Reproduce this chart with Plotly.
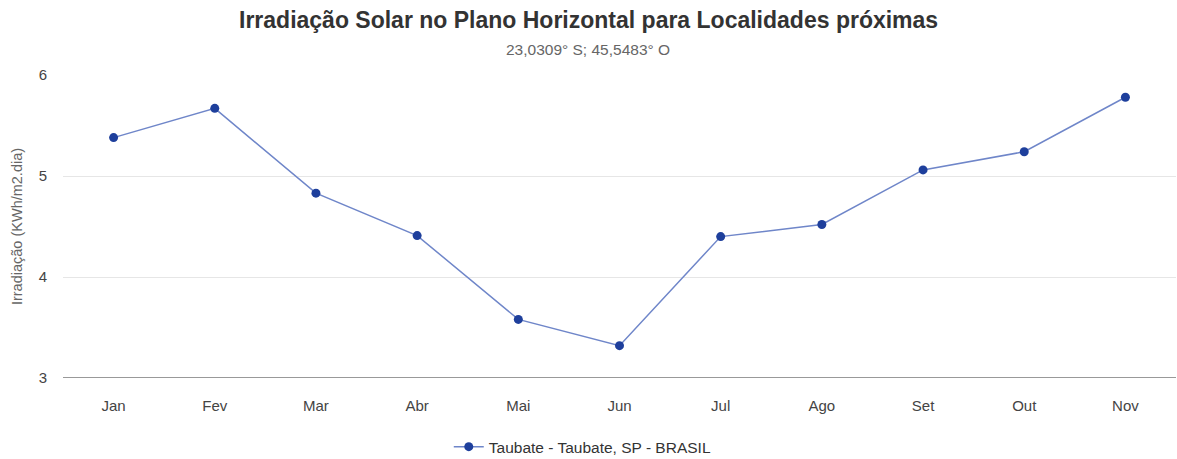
import plotly.graph_objects as go

months = ["Jan", "Fev", "Mar", "Abr", "Mai", "Jun", "Jul", "Ago", "Set", "Out", "Nov"]
irradiacao = [5.38, 5.67, 4.83, 4.41, 3.58, 3.32, 4.40, 4.52, 5.06, 5.24, 5.78]
series_name = "Taubate - Taubate, SP - BRASIL"
y_ticks = [3, 4, 5, 6]

font_family = "Liberation Sans, Arial, sans-serif"
page_center = 0.472  # centre of the page in plot-paper coordinates

fig = go.Figure()
fig.add_trace(go.Scatter(
    x=months, y=irradiacao, mode="lines+markers", name=series_name,
    line=dict(color="#6f86c9", width=1.5),
    marker=dict(color="#1e3f9c", size=9),
))

fig.update_layout(
    width=1177, height=459,
    margin=dict(l=63, r=1, t=75, b=81, autoexpand=False),
    paper_bgcolor="white", plot_bgcolor="white",
    font=dict(family=font_family, color="#666666", size=14),
    showlegend=True,
    legend=dict(orientation="h", x=page_center - 0.005, xanchor="center", y=-0.228, yanchor="middle",
                font=dict(size=15.5, color="#333333"), itemwidth=30),
    xaxis=dict(range=[-0.5, 10.5], showgrid=False, zeroline=False,
               tickfont=dict(size=15, color="#444444"), ticks="outside", ticklen=14,
               tickcolor="rgba(0,0,0,0)", automargin=False),
    yaxis=dict(range=[3, 6], tickvals=y_ticks, showgrid=True, gridcolor="#e6e6e6",
               zeroline=False, tickfont=dict(size=15, color="#444444"),
               title=dict(text="Irradiação (KWh/m2.dia)", font=dict(size=14.5, color="#666666"), standoff=12),
               ticks="outside", ticklen=12, tickcolor="rgba(0,0,0,0)", automargin=False),
)
fig.add_annotation(text="<b>Irradiação Solar no Plano Horizontal para Localidades próximas</b>",
                   x=page_center, xref="paper", xanchor="center", y=1.0, yref="paper", yanchor="middle",
                   yshift=55, showarrow=False,
                   font=dict(size=23, color="#333333", family=font_family))
fig.add_annotation(text="23,0309° S; 45,5483° O",
                   x=page_center, xref="paper", xanchor="center", y=1.0, yref="paper", yanchor="middle",
                   yshift=26, showarrow=False,
                   font=dict(size=15.5, color="#666666", family=font_family))
fig.add_shape(type="line", xref="paper", yref="y", x0=0, x1=1, y0=3, y1=3,
              line=dict(color="#999999", width=2))

fig.write_html("out.html", config={"displayModeBar": False},
               post_script="document.body.style.margin='0';")
